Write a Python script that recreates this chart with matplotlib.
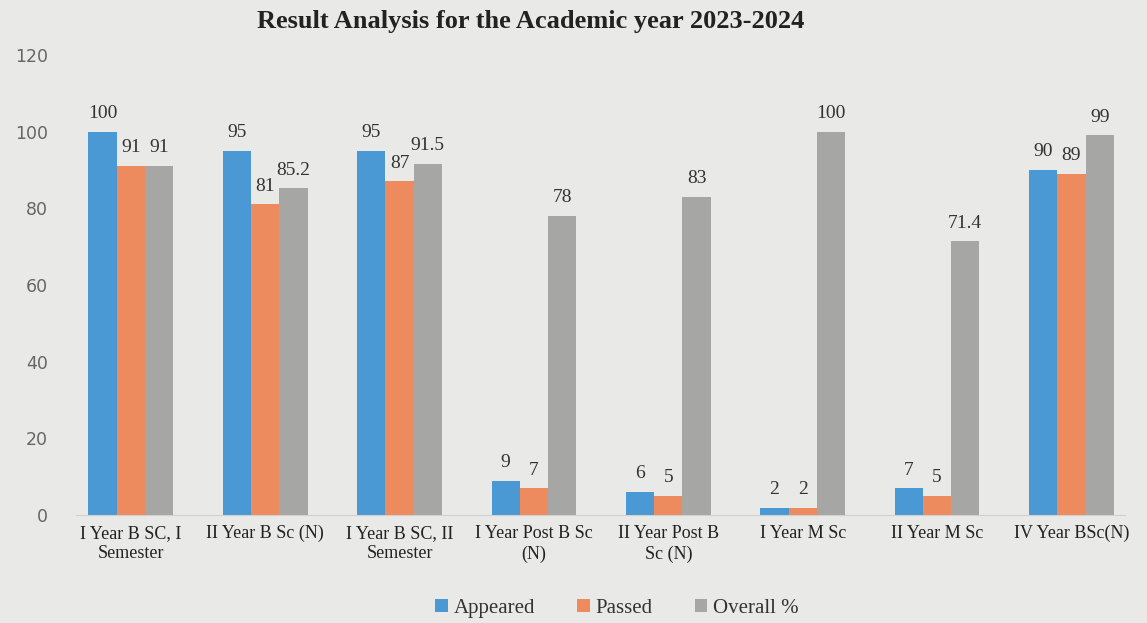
import matplotlib
matplotlib.use("Agg")
import matplotlib.pyplot as plt
import numpy as np

categories = ["I Year B SC, I\nSemester", "II Year B Sc (N)", "I Year B SC, II\nSemester",
              "I Year Post B Sc\n(N)", "II Year Post B\nSc (N)", "I Year M Sc",
              "II Year M Sc", "IV Year BSc(N)"]
appeared = [100, 95, 95, 9, 6, 2, 7, 90]
passed = [91, 81, 87, 7, 5, 2, 5, 89]
overall = [91, 85.2, 91.5, 78, 83, 100, 71.4, 99]
yticks = [0, 20, 40, 60, 80, 100, 120]

bg = "#e9e9e7"
serif = ["Liberation Serif", "DejaVu Serif"]

fig = plt.figure(figsize=(11.47, 6.23), dpi=100, facecolor=bg)
ax = fig.add_axes([0.066, 0.173, 0.915, 0.739], facecolor=bg)

x = np.arange(len(categories))
w = 0.21
series = [(appeared, "Appeared", "#4a98d4"),
          (passed, "Passed", "#ee8b5e"),
          (overall, "Overall %", "#a6a6a4")]
for i, (vals, name, col) in enumerate(series):
    bars = ax.bar(x + (i - 1) * w, vals, w, color=col, label=name)
    ax.bar_label(bars, labels=[f"{v:g}" for v in vals], padding=7,
                 fontsize=14, family=serif, color="#333333")

ax.set_ylim(0, 120)
ax.set_xlim(-0.41, 7.40)
ax.set_yticks(yticks)
ax.set_xticks(x)
ax.set_xticklabels(categories, family=serif, fontsize=13, color="#222222",
                   linespacing=1.25)
ax.tick_params(axis="y", labelsize=12.5, labelcolor="#666666", length=0, pad=20)
ax.tick_params(axis="x", length=0, pad=7)
for s in ["top", "right", "left"]:
    ax.spines[s].set_visible(False)
ax.spines["bottom"].set_color("#d0d0ce")

fig.text(0.463, 0.966, "Result Analysis for the Academic year 2023-2024",
         ha="center", va="center", fontsize=19, fontweight="bold",
         family=serif, color="#222222")

leg = fig.legend(loc="lower center", bbox_to_anchor=(0.538, -0.022), ncol=3,
                 frameon=False, handlelength=0.6, handleheight=0.6,
                 handletextpad=0.3, columnspacing=2.0,
                 prop={"family": serif, "size": 15})
for t in leg.get_texts():
    t.set_color("#333333")

fig.savefig("out.png", dpi=100, facecolor=bg)
